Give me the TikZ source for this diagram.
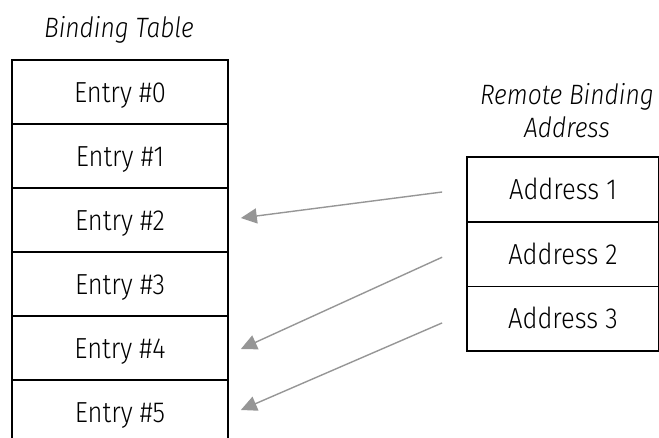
\documentclass[tikz,border=0pt]{standalone}
\usepackage{fontspec}
\setmainfont{Fira Sans Light}[FakeStretch=0.88]
\usetikzlibrary{arrows.meta}
\begin{document}
\begin{tikzpicture}[x=1pt,y=-1pt,
  cell/.style={draw=black,line width=1.7pt,minimum height=64pt,inner sep=0pt,
    text height=20pt,text depth=0pt,font=\fontsize{29}{34}\selectfont},
  lcell/.style={cell,minimum width=216pt},
  rcell/.style={cell,minimum width=192pt,minimum height=64.7pt},
  caption/.style={font=\fontsize{28}{33}\selectfont\itshape,align=center},
  link/.style={draw={rgb,255:red,150;green,150;blue,150},line width=1.4pt,-{Triangle[length=16pt,width=15pt]}}]
\useasboundingbox (0,0) rectangle (659,437);
\clip (0,0) rectangle (659,437);
% binding table
\node[caption] (bt) at (119,30) {Binding Table};
\node[lcell] (e0) at (120,92) {Entry \#0};
\node[lcell] (e1) at (120,156) {Entry \#1};
\node[lcell] (e2) at (120,220) {Entry \#2};
\node[lcell] (e3) at (120,284) {Entry \#3};
\node[lcell] (e4) at (120,348) {Entry \#4};
\node[lcell] (e5) at (120,412) {Entry \#5};
% remote addresses
\node[caption] (rb) at (567,111) {Remote Binding\\Address};
\node[rcell] (a1) at (563,189.5) {Address 1};
\node[rcell] (a2) at (563,254.2) {Address 2};
\node[rcell] (a3) at (563,318.9) {Address 3};
% links
\draw[link] ([xshift=-24pt,yshift=-2.5pt]a1.west) -- ([xshift=12pt,yshift=2pt]e2.east);
\draw[link] ([xshift=-24pt,yshift=-3pt]a2.west) -- ([xshift=12pt,yshift=-1pt]e4.east);
\draw[link] ([xshift=-24pt,yshift=-4pt]a3.west) -- ([xshift=12pt,yshift=2pt]e5.east);
\end{tikzpicture}
\end{document}
